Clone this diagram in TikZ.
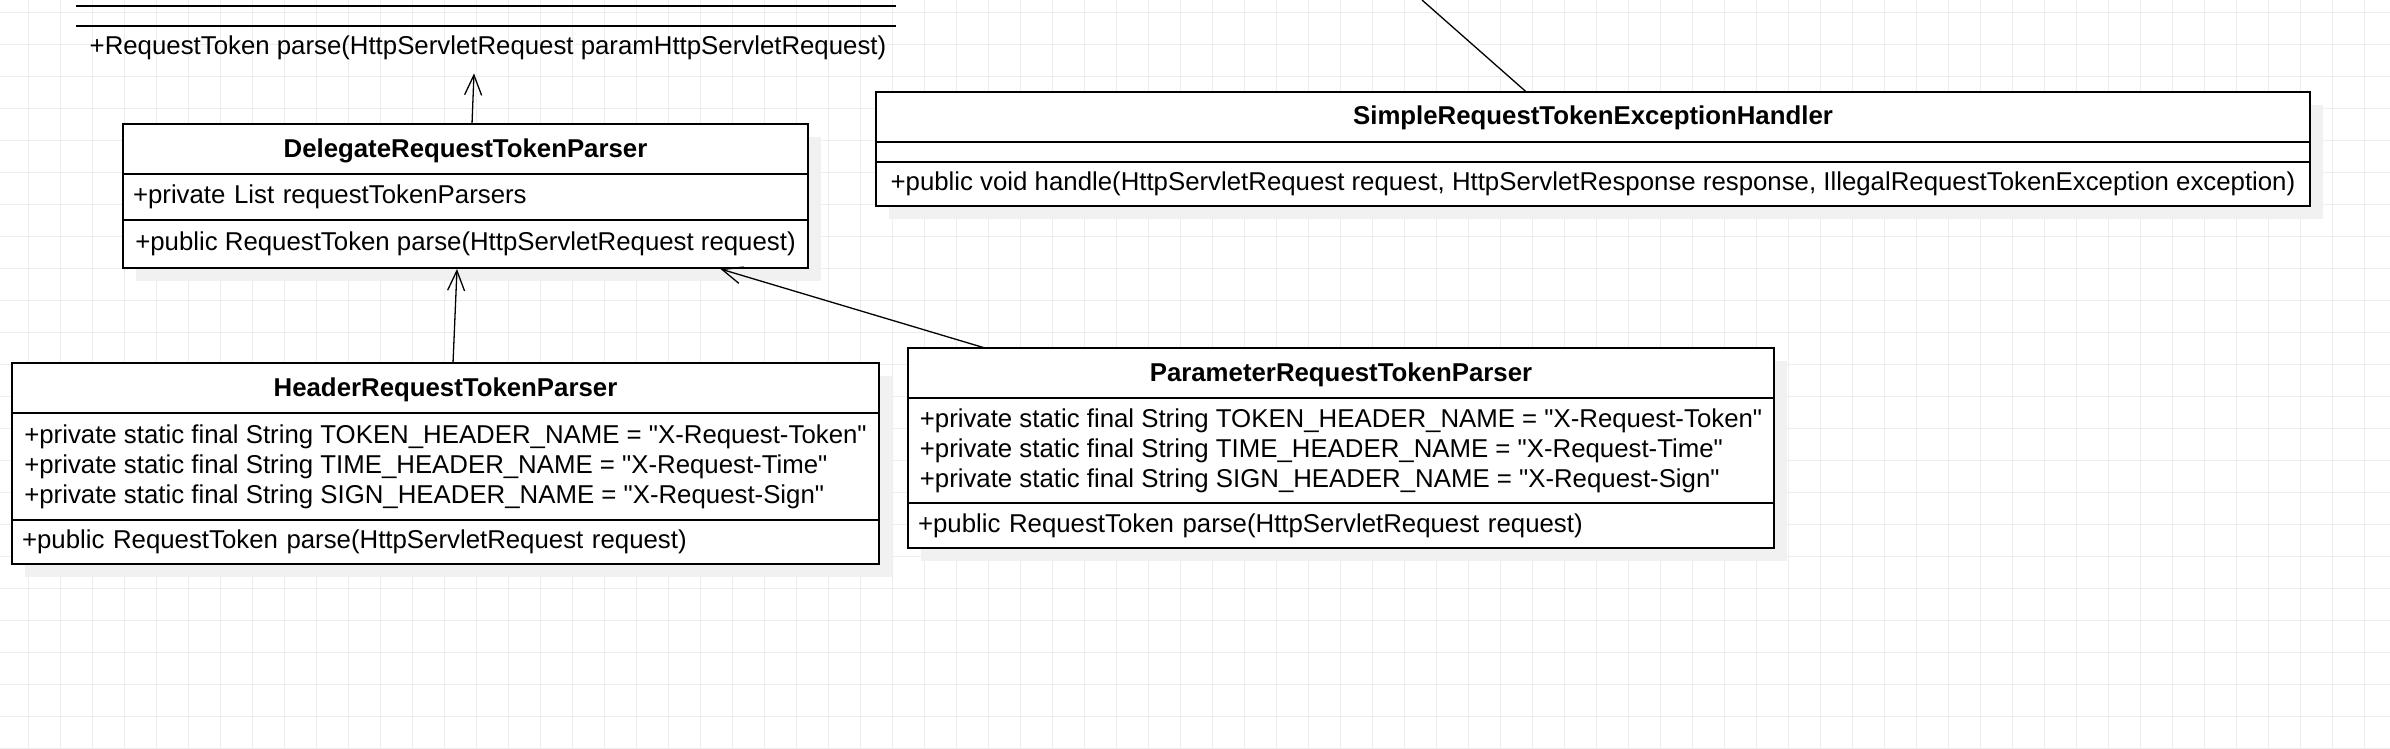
\documentclass[tikz,border=0pt]{standalone}
\usepackage{fontspec}
\setmainfont{Liberation Sans}[Ligatures=TeXOff]
\usetikzlibrary{positioning,shadows,arrows.meta}
\definecolor{gridgray}{HTML}{EDEDED}
\definecolor{shadowgray}{HTML}{F1F1F1}

\begin{document}
\fontsize{25.8}{30}\selectfont
\begin{tikzpicture}[x=1pt, y=-1pt]
    \tikzstyle{umlpart} = [rectangle, draw, line width=1.7pt, fill=white, outer sep=0pt, inner xsep=10pt, inner ysep=0pt, anchor=north, drop shadow={shadow xshift=13pt, shadow yshift=-13pt, fill=shadowgray, opacity=1}]
    \tikzstyle{classname} = [umlpart, font=\bfseries, minimum height=50pt, text height=21.6pt, text depth=5.4pt]
    \tikzstyle{members} = [umlpart, align=left]
    \tikzstyle{gridline} = [gridgray, line width=1pt]
    \tikzstyle{inherit} = [-{Straight Barb[length=20pt, width=17pt]}, line width=1.3pt]

    \fill [white] (0,0) rectangle (2390,748);
    \useasboundingbox (0,0) rectangle (2390,748);
    % background grid
    \foreach \x in {28,60,...,2364} \draw [gridline] (\x,0) -- (\x,748);
    \foreach \y in {12,44,...,748} \draw [gridline] (0,\y) -- (2390,\y);

    % interface, cut off at the top
    \node (ifaceops) [anchor=north, minimum width=820pt, minimum height=44pt, inner sep=0pt] at (488,26) {+RequestToken parse(HttpServletRequest paramHttpServletRequest)};
    \draw [line width=1.7pt] ([xshift=-2pt]ifaceops.north west) -- ([xshift=-2pt]ifaceops.north east);
    \draw [line width=1.7pt] ([xshift=-2pt,yshift=20pt]ifaceops.north west) -- ([xshift=-2pt,yshift=20pt]ifaceops.north east);

    \node (delegate) [classname, minimum width=685pt] at (465.5,124) {DelegateRequestTokenParser};
    \node (delegateattrs) [members, below=0pt of delegate, text width=665pt, minimum height=46pt] {+private List requestTokenParsers};
    \node (delegateops) [members, below=0pt of delegateattrs, minimum width=685pt, minimum height=48pt] {+public RequestToken parse(HttpServletRequest request)};

    \node (handler) [classname, minimum width=1434pt] at (1593,91.7) {SimpleRequestTokenExceptionHandler};
    \node (handlerattrs) [members, below=0pt of handler, minimum width=1434pt, minimum height=20.6pt] {};
    \node (handlerops) [members, below=0pt of handlerattrs, minimum width=1434pt, minimum height=43.7pt] {+public void handle(HttpServletRequest request, HttpServletResponse response, IllegalRequestTokenException exception)};

    \node (header) [classname, minimum width=867pt] at (445.5,363.3) {HeaderRequestTokenParser};
    \node (headerattrs) [members, below=0pt of header, minimum width=867pt, minimum height=106.7pt] {+private static final String TOKEN\_HEADER\_NAME = "X-Request-Token"\\+private static final String TIME\_HEADER\_NAME = "X-Request-Time"\\+private static final String SIGN\_HEADER\_NAME = "X-Request-Sign"};
    \node (headerops) [members, below=0pt of headerattrs, text width=847pt, minimum height=44pt] {+public RequestToken parse(HttpServletRequest request)};

    \node (param) [classname, minimum width=866pt, minimum height=49.4pt] at (1341,348.3) {ParameterRequestTokenParser};
    \node (paramattrs) [members, below=0pt of param, minimum width=866pt, minimum height=105.6pt] {+private static final String TOKEN\_HEADER\_NAME = "X-Request-Token"\\+private static final String TIME\_HEADER\_NAME = "X-Request-Time"\\+private static final String SIGN\_HEADER\_NAME = "X-Request-Sign"};
    \node (paramops) [members, below=0pt of paramattrs, text width=846pt, minimum height=45pt] {+public RequestToken parse(HttpServletRequest request)};

    \coordinate (offtop) at (1422,0);

    \draw [inherit] ([xshift=6.5pt]delegate.north) -- ([xshift=-14pt,yshift=-3pt]ifaceops.south);
    \draw [inherit] ([xshift=7.5pt]header.north) -- ([xshift=-8.5pt,yshift=-1pt]delegateops.south);
    \draw [inherit] ([xshift=-355pt]param.north) -- ([xshift=255pt,yshift=-1pt]delegateops.south);
    \draw [line width=1.3pt] ([xshift=-67pt]handler.north) -- (offtop);

\end{tikzpicture}
\end{document}
